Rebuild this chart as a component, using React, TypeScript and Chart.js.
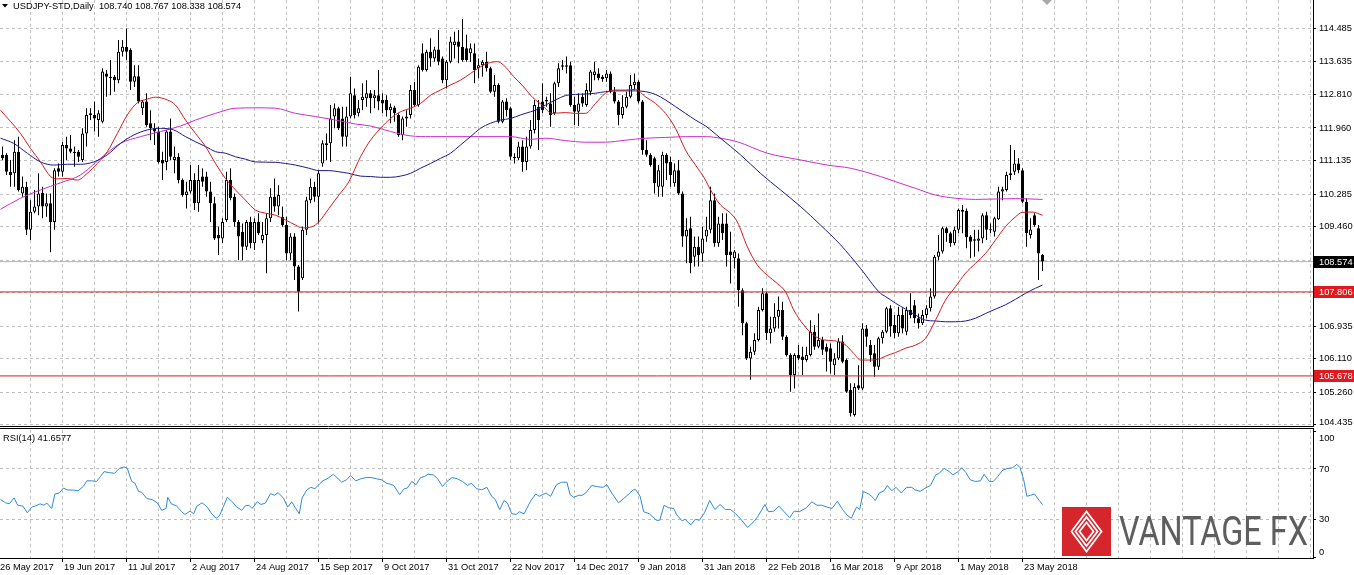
import React, { useEffect, useRef } from "react";
import { Chart, registerables } from "chart.js";
Chart.register(...registerables);

// ---- data (bar 0 = 29 May 2017, one bar per trading day) ----
const opens = [
111.28,111.28,110.85,110.81,111.36,110.30,110.47,109.38,109.84,109.97,
110.32,109.97,110.05,109.58,110.94,110.85,111.53,111.44,111.36,111.36,
111.15,111.82,112.29,112.29,112.16,112.12,113.34,113.26,113.26,113.17,
113.89,114.02,113.94,113.13,113.27,112.46,112.63,112.08,111.95,111.87,
111.15,111.10,111.87,111.15,111.23,110.64,110.26,110.35,110.64,110.05,
110.73,110.73,110.35,110.05,109.25,109.16,109.63,110.64,110.22,109.58,
109.33,108.95,109.58,109.04,109.58,109.12,109.25,109.67,110.22,109.97,
109.71,109.50,108.78,109.21,108.45,108.15,109.38,110.13,110.47,110.22,
111.06,111.53,111.57,112.25,112.46,112.20,111.74,112.25,112.79,112.33,
112.67,112.71,112.84,112.71,112.79,112.67,112.67,112.41,112.48,112.29,
111.78,112.20,112.29,112.92,112.54,113.85,113.43,113.89,113.72,113.95,
113.72,113.17,113.64,114.06,114.15,114.02,113.98,113.85,113.85,113.47,
113.55,113.64,113.47,112.88,113.05,112.12,112.63,112.46,111.23,111.19,
111.49,111.10,111.49,111.91,112.50,112.63,112.63,112.58,112.33,113.09,
113.51,113.51,113.55,112.54,112.37,112.75,112.54,112.88,113.30,113.34,
113.26,113.22,113.34,112.88,112.63,112.29,112.50,112.75,113.05,113.13,
112.63,111.40,111.28,111.19,110.47,110.47,111.28,111.10,110.56,110.89,
110.30,109.21,109.42,108.70,108.95,108.78,109.21,109.38,110.13,109.04,
109.54,109.54,108.83,108.66,108.66,107.85,107.01,106.12,106.29,106.59,
107.35,107.77,106.76,106.88,107.18,107.35,106.67,106.21,105.70,106.21,
106.17,106.08,106.21,106.80,106.42,106.59,106.42,106.38,105.95,106.12,
106.55,106.08,105.32,104.69,105.44,105.36,106.88,106.46,106.25,105.91,
106.63,106.80,107.39,106.97,106.76,107.22,106.80,107.35,107.47,107.14,
107.01,107.22,107.39,107.69,108.70,108.83,109.42,109.29,109.04,109.38,
109.84,109.86,109.21,109.14,109.10,109.16,109.75,109.39,109.33,109.65,
110.35,110.39,110.77,110.85,111.06,110.89,110.09,109.25,109.75,109.42,
108.740];
const highs = [
111.49,111.32,111.15,111.65,111.74,110.73,110.60,110.13,110.39,110.81,
110.47,110.30,110.30,110.94,111.06,111.61,111.74,111.78,111.49,111.40,
111.95,112.46,112.46,112.63,112.41,113.47,113.43,113.68,113.30,114.19,
114.19,114.48,113.98,113.55,113.55,112.67,112.84,112.41,112.08,111.99,
111.36,111.91,112.20,111.49,111.32,110.68,110.60,111.02,110.81,111.02,
110.94,110.85,110.60,110.22,109.46,109.67,110.85,110.94,110.30,109.63,
109.54,109.63,109.71,109.67,109.80,109.58,109.80,110.43,110.68,110.51,
109.97,109.71,109.29,109.29,108.49,109.46,110.22,110.68,110.60,110.89,
111.65,111.82,112.54,112.58,112.50,112.50,112.50,113.26,112.96,112.67,
113.09,113.17,112.92,112.92,113.43,112.84,112.79,112.58,112.52,112.33,
112.25,112.41,113.05,113.13,113.55,114.10,113.94,114.23,114.02,114.44,
113.77,113.68,114.27,114.40,114.44,114.72,114.32,114.10,114.10,113.72,
113.68,113.89,113.51,113.30,113.09,112.67,112.71,112.50,111.32,111.61,
111.65,111.74,112.16,112.67,112.67,113.09,112.75,112.84,113.13,113.60,
113.68,113.77,113.64,112.75,112.84,112.84,113.09,113.43,113.64,113.47,
113.30,113.43,113.39,113.00,112.67,112.79,112.88,113.30,113.34,113.17,
112.67,111.65,111.32,111.23,111.02,111.36,111.32,111.23,111.06,111.15,
110.35,109.67,109.71,109.21,109.21,109.46,109.71,110.47,110.30,109.71,
109.80,109.80,109.33,108.87,108.78,107.90,107.05,106.42,106.76,107.43,
107.90,107.81,107.18,107.52,107.69,107.56,106.71,106.25,106.25,106.46,
106.42,106.42,107.09,106.97,107.26,106.67,106.50,106.50,106.25,106.63,
106.71,106.12,105.49,105.49,105.95,107.01,106.97,106.59,106.46,106.67,
106.84,107.43,107.47,107.22,107.43,107.39,107.43,107.77,107.60,107.26,
107.35,107.47,107.90,108.74,109.25,109.46,109.46,109.33,109.46,109.92,
110.01,109.92,109.25,109.38,109.38,109.80,109.84,109.54,109.71,110.47,
110.47,110.85,111.53,111.40,111.19,110.94,110.18,109.67,109.80,109.50,
108.767];
const lows = [
111.15,110.77,110.47,110.47,110.35,110.22,109.25,109.12,109.80,109.75,
109.67,109.71,108.81,109.38,110.73,110.73,111.15,111.32,110.98,111.10,
111.10,111.49,112.16,111.87,111.74,112.08,112.75,112.79,112.88,113.09,
113.77,113.68,112.92,113.00,112.58,112.29,111.99,111.65,111.53,111.06,
110.64,110.89,111.15,110.81,110.56,110.22,109.92,110.30,109.88,109.84,
110.47,110.22,109.58,109.12,108.74,109.04,109.58,110.13,109.46,108.61,
108.61,108.87,108.91,108.87,109.25,109.04,108.28,109.58,109.84,109.75,
109.46,108.61,108.61,108.11,107.31,108.11,109.25,110.05,110.09,109.54,
110.98,111.15,111.10,111.95,111.91,111.49,111.49,112.20,112.20,112.25,
112.41,112.50,112.33,112.46,112.41,112.33,112.25,112.08,112.12,111.74,
111.65,111.99,112.20,112.50,112.50,113.39,113.39,113.51,113.64,113.55,
113.09,112.96,113.60,113.72,113.60,113.64,113.64,113.64,113.09,113.22,
113.26,113.39,112.84,112.75,112.08,112.08,112.25,111.15,111.06,111.15,
110.85,110.89,111.44,111.82,111.40,112.33,112.50,111.99,112.29,113.00,
113.43,113.34,112.50,112.03,112.01,112.50,112.50,112.79,113.17,113.17,
113.13,113.13,112.84,112.58,112.03,112.20,112.46,112.71,112.92,112.58,
111.28,111.23,110.98,110.30,110.22,110.22,110.64,110.47,110.47,110.26,
108.95,108.53,108.28,108.45,108.45,108.57,109.08,109.29,108.95,108.95,
109.12,108.45,108.02,108.40,107.43,106.71,106.08,105.58,106.21,106.55,
107.31,106.59,106.50,106.80,106.88,106.59,106.17,105.28,105.36,106.08,
105.70,106.04,106.17,106.34,106.38,106.21,105.79,105.74,105.70,106.08,
106.00,105.25,104.65,104.65,105.32,105.32,106.42,106.04,105.66,105.83,
106.50,106.76,106.67,106.63,106.67,106.76,106.71,107.14,107.01,106.88,
106.97,107.14,107.31,107.64,108.61,108.78,109.08,108.95,108.99,109.29,
109.29,108.91,108.66,108.70,108.83,109.04,109.12,109.29,109.21,109.63,
110.13,110.35,110.64,110.77,110.81,110.05,108.95,109.16,109.46,108.11,
108.338];
const closes = [
111.19,110.85,110.77,111.36,110.39,110.47,109.38,109.84,109.97,110.30,
109.97,110.05,109.58,110.89,110.85,111.53,111.44,111.36,111.32,111.23,
111.82,112.29,112.33,112.20,112.33,113.39,113.26,113.22,113.17,113.89,
114.02,113.89,113.13,113.27,112.63,112.63,112.03,111.95,111.87,111.10,
111.06,111.87,111.23,111.23,110.64,110.26,110.35,110.64,110.05,110.64,
110.60,110.35,110.05,109.16,109.16,109.58,110.64,110.18,109.58,109.21,
108.95,109.58,109.04,109.58,109.29,109.25,109.67,110.22,109.97,110.26,
109.50,108.78,109.21,108.45,107.81,109.38,110.13,110.47,110.22,110.81,
111.57,111.57,112.20,112.46,111.95,111.74,112.25,112.84,112.29,112.46,
112.75,112.84,112.71,112.79,112.63,112.58,112.41,112.50,112.33,111.78,
112.20,112.25,112.92,112.54,113.51,113.43,113.89,113.72,113.95,113.64,
113.17,113.64,114.15,114.15,114.02,113.68,113.68,113.98,113.43,113.55,
113.64,113.47,112.88,113.05,112.12,112.63,112.41,111.23,111.19,111.49,
111.10,111.49,111.91,112.54,112.16,112.41,112.67,112.29,113.09,113.47,
113.55,113.55,112.54,112.37,112.58,112.58,112.92,113.39,113.39,113.22,
113.20,113.34,112.88,112.63,112.29,112.50,112.75,113.05,113.13,112.63,
111.40,111.28,111.02,110.56,110.89,111.28,111.06,110.77,110.89,110.30,
109.21,109.38,108.53,108.95,108.74,109.16,109.38,110.13,109.04,109.54,
109.29,108.74,108.74,108.83,107.85,107.01,106.12,106.29,106.59,107.35,
107.77,106.76,106.88,107.18,107.35,106.67,106.21,105.70,106.21,106.12,
106.08,106.21,106.80,106.42,106.59,106.34,106.29,106.04,106.12,106.55,
106.04,105.28,104.73,105.40,105.36,106.88,106.67,106.21,105.91,106.63,
106.80,107.39,106.93,106.76,107.22,106.88,107.35,107.22,107.14,107.01,
107.22,107.39,107.69,108.70,108.83,109.42,109.29,109.04,109.38,109.88,
109.88,109.19,109.08,109.10,109.16,109.75,109.38,109.37,109.67,110.35,
110.41,110.77,110.81,111.06,110.89,110.09,109.29,109.39,109.50,108.78,
108.574];

// moving averages: [bar, price]
const maRed = [[-0.5,112.41],[4.5,111.82],[7,111.44],[9.5,111.10],[12,110.73],[13.7,110.67],[16.2,110.68],[18.7,110.64],[21.2,110.81],[23.7,111.06],[26.2,111.36],[28.7,111.82],[31.2,112.29],[33.7,112.60],[36.2,112.69],[38.25,112.74],[41.2,112.67],[43.25,112.54],[45.75,112.16],[48.25,111.82],[50.75,111.49],[53.25,111.06],[55.75,110.68],[58.25,110.39],[60.75,110.13],[63.25,109.88],[65.75,109.80],[68.25,109.75],[70.75,109.63],[73.25,109.50],[74.9,109.43],[77.4,109.46],[79.1,109.58],[81.6,109.92],[84.1,110.26],[86.6,110.60],[89.5,111.23],[92,111.65],[94.5,111.95],[97,112.20],[99.5,112.37],[102,112.46],[104.5,112.58],[107,112.79],[109.5,112.92],[112,113.05],[114.5,113.17],[117,113.34],[119.5,113.51],[122,113.62],[123.7,113.64],[125.3,113.55],[127.8,113.26],[130.3,113.00],[132,112.79],[133.25,112.67],[134.9,112.54],[137.4,112.33],[140.75,112.35],[143.25,112.33],[145.75,112.33],[148.25,112.58],[150.75,112.84],[153.25,112.92],[155.75,112.92],[158.25,112.94],[160.75,112.75],[163.25,112.58],[165.75,112.33],[168.25,111.95],[170.75,111.40],[173.25,111.02],[175.75,110.64],[177,110.39],[179.5,110.01],[182,109.80],[183.7,109.58],[186.2,108.95],[188.7,108.49],[191.2,108.23],[193.7,108.02],[195.75,107.81],[197.8,107.35],[200.3,106.97],[202.8,106.71],[205.3,106.59],[207.8,106.57],[210.3,106.50],[212.8,106.25],[214.5,106.08],[217,106.08],[219.5,106.12],[220.75,106.18],[223.25,106.27],[225.75,106.38],[228.25,106.46],[230.75,106.63],[233.25,107.09],[235.75,107.60],[238.25,107.94],[240.75,108.28],[243.25,108.53],[245.75,108.78],[248.25,109.12],[250.75,109.46],[253.25,109.71],[254.9,109.82],[257.4,109.83],[260,109.75]];
const maBlue = [[-0.5,111.70],[2.8,111.57],[6.2,111.32],[9.5,111.10],[12.8,111.02],[16.2,111.04],[19.5,111.04],[22.8,111.10],[26.2,111.28],[29.5,111.57],[32.8,111.78],[36.2,111.91],[39.5,111.95],[42.8,111.91],[45.75,111.74],[48.25,111.61],[50.75,111.49],[53.25,111.36],[55.75,111.32],[58.25,111.23],[60.75,111.17],[63.25,111.10],[68.25,111.09],[70.75,111.06],[73.25,111.02],[76.6,110.94],[79.1,110.88],[81.6,110.88],[84.1,110.85],[86.6,110.81],[89.5,110.74],[92,110.73],[94.5,110.71],[97,110.71],[99.5,110.74],[102,110.81],[104.5,110.94],[107,111.06],[109.5,111.19],[112,111.32],[114.5,111.53],[117,111.74],[119.5,111.95],[122,112.08],[124.5,112.16],[127,112.20],[129.5,112.29],[132,112.37],[133.25,112.41],[135.75,112.54],[138.25,112.67],[140.75,112.78],[143.25,112.81],[145.75,112.82],[148.25,112.84],[150.75,112.88],[153.25,112.90],[158.25,112.90],[160.75,112.88],[163.25,112.81],[165.75,112.67],[168.25,112.50],[170.75,112.33],[173.25,112.16],[175.75,112.01],[179.5,111.70],[184.5,111.28],[189.5,110.81],[194.5,110.39],[199.5,109.97],[204.5,109.50],[209.5,109.00],[214.5,108.40],[219.5,107.77],[220.75,107.69],[223.25,107.52],[225.75,107.37],[228.25,107.22],[230.75,107.09],[233.25,107.07],[235.75,107.05],[238.25,107.05],[240.75,107.07],[243.25,107.14],[245.75,107.26],[248.25,107.37],[250.75,107.48],[253.25,107.62],[255.75,107.77],[258.25,107.90],[260,107.98]];
const maMagenta = [[-0.5,109.90],[4.5,110.18],[9.5,110.39],[14.5,110.57],[19.5,110.77],[24.5,111.19],[29.5,111.57],[34.5,111.74],[39.5,111.87],[44.5,112.01],[48.25,112.16],[53.25,112.33],[58.25,112.46],[63.25,112.47],[68.25,112.46],[73.25,112.33],[78.25,112.25],[83.25,112.16],[88.25,112.06],[92,112.01],[97,111.87],[102,111.76],[107,111.74],[127,111.74],[132,111.67],[135.75,111.70],[140.75,111.64],[145.75,111.60],[150.75,111.60],[155.75,111.65],[160.75,111.70],[165.75,111.72],[170.75,111.74],[176,111.74],[179.5,111.70],[183.7,111.61],[191.2,111.32],[199.5,111.15],[206.2,111.02],[212,110.94],[219.5,110.73],[223.25,110.60],[228.25,110.43],[233.25,110.26],[238.25,110.18],[243.25,110.15],[253.25,110.17],[260,110.15]];

// RSI(14): [bar, value]
const rsi14 = [[-0.5,45.7],[0.8,43.1],[1.7,42.3],[2.9,47.0],[3.8,41.2],[5.1,40.5],[6.2,35.2],[7.3,39.7],[8.6,41.0],[9.4,42.3],[10.3,41.2],[11.1,42.8],[12.3,38.6],[13.1,50.1],[14.2,50.9],[15.2,54.8],[16.3,53.3],[17.6,53.3],[18.9,52.7],[20.2,56.1],[21.1,60.6],[22.3,60.6],[23.5,60.1],[24.5,64.0],[25.4,67.9],[26.7,67.1],[28,66.6],[29.2,70.5],[30.4,71.6],[31.2,70.5],[32.3,60.1],[33.1,58.8],[34,52.2],[34.8,51.4],[36.1,46.5],[37.4,45.7],[38.7,43.1],[39.8,37.1],[40.9,38.6],[41.3,47.5],[42.2,42.3],[43.5,40.7],[44.8,36.0],[45.6,33.9],[46.9,36.5],[47.8,34.4],[48.6,40.5],[49.9,43.1],[51.2,39.7],[52.1,35.2],[53.4,30.8],[54.2,32.6],[55.1,39.2],[56.2,47.5],[57.3,44.4],[58.6,39.7],[59.8,37.1],[60.7,40.7],[61.6,41.2],[62.4,38.6],[63.7,43.9],[64.6,41.8],[65.7,42.8],[67,50.4],[68,49.1],[68.9,51.2],[70.2,47.0],[71.3,39.7],[72.3,43.9],[73.2,39.2],[74.2,34.4],[74.9,47.0],[76.1,53.5],[77.1,55.4],[78.1,54.3],[79.2,58.0],[80.1,60.6],[81.4,62.7],[82.7,65.8],[83.6,63.2],[84.8,59.5],[86,61.4],[87,64.8],[88.3,60.6],[89.6,62.2],[90.9,63.2],[92.2,63.2],[93.5,62.2],[94.8,61.4],[95.9,58.8],[96.9,58.0],[97.8,56.9],[99.3,49.6],[100.4,54.3],[101.2,54.8],[102.3,60.1],[103.4,57.5],[104.5,63.2],[105.5,64.0],[106.4,65.8],[107.7,65.3],[108.8,62.2],[110,56.1],[111.1,60.1],[112.4,63.2],[113.7,62.2],[115,60.1],[116.3,56.9],[117.2,58.8],[118.5,54.3],[119.8,53.5],[121.1,55.4],[122.3,48.3],[123.2,45.7],[124.3,37.6],[125.4,44.9],[126.2,43.1],[127.3,34.4],[128.4,33.9],[129.2,36.0],[130.4,34.4],[132,44.4],[133.3,50.1],[134.2,48.3],[135.9,50.9],[137,48.3],[138.5,57.5],[139.8,59.5],[141.1,59.5],[141.9,49.6],[142.8,47.5],[144.1,49.1],[144.9,49.1],[145.8,50.9],[147.3,56.9],[148.8,55.9],[150.1,55.4],[151.1,57.5],[152.3,50.9],[154,43.1],[155.3,46.5],[156.6,50.1],[157.7,53.5],[158.3,53.5],[159.4,48.3],[160.3,36.0],[161.7,34.4],[163.5,29.2],[164.3,29.2],[165.4,41.2],[166.5,39.2],[167.8,38.6],[168.6,33.4],[169.9,28.7],[170.6,30.0],[172.1,25.6],[173.2,30.0],[174.2,29.2],[175.5,35.2],[176.8,44.9],[178.1,37.8],[179.4,41.8],[180.7,37.8],[182,37.8],[183.3,34.4],[184.6,30.0],[186.3,23.5],[188,28.7],[188.9,32.6],[190.6,41.8],[191.5,36.0],[192.8,36.5],[194.1,40.5],[195.4,36.0],[196.8,31.3],[197.9,36.5],[199.2,36.0],[201,39.2],[202.3,43.9],[203.6,41.2],[204.8,41.2],[206.1,39.7],[207.4,38.6],[208.7,44.4],[210,37.8],[211.1,33.4],[212.2,30.8],[213.5,39.7],[214.3,37.8],[215.2,52.2],[216.5,50.1],[217.3,48.3],[218.2,44.9],[219.2,50.9],[220.4,52.7],[221.2,56.9],[222.3,52.7],[223.4,55.4],[224.7,50.9],[226,55.4],[227.3,55.4],[228.1,53.5],[229.4,52.2],[230.7,54.8],[232,56.9],[233.3,65.3],[234.2,66.6],[235.4,70.5],[236.7,67.9],[237.6,65.3],[238.9,67.9],[239.8,71.0],[240.8,67.4],[241.9,61.4],[243.2,60.1],[244.5,60.6],[245.4,65.8],[246.7,60.1],[247.7,60.1],[248.8,64.0],[250.1,69.2],[251.4,70.5],[252.5,71.0],[253.6,73.7],[254.4,71.0],[255.3,61.4],[256.1,48.3],[257,49.1],[258,50.1],[259.2,44.9],[260,41.66]];

const priceTicks = [114.485,113.635,112.810,111.960,111.135,110.285,109.460,108.610,107.785,106.935,106.110,105.260,104.435];
const hiddenPriceLabels = [108.610, 107.785];
const bottomPriceLabel = 104.435;
const rsiLevels = [0, 30, 70, 100];
const rsiGridLevels = [30, 70];
const dateLabels = ["26 May 2017","19 Jun 2017","11 Jul 2017","2 Aug 2017","24 Aug 2017","15 Sep 2017","9 Oct 2017","31 Oct 2017","22 Nov 2017","14 Dec 2017","9 Jan 2018","31 Jan 2018","22 Feb 2018","16 Mar 2018","9 Apr 2018","1 May 2018","23 May 2018"];
const dateLabelBars = [-1,15,31,47,63,79,95,111,127,143,159,175,191,207,223,239,255];
const levelLines = [107.806, 105.678];
const lastPrice = 108.574;
const titleText = "USDJPY-STD,Daily  108.740 108.767 108.338 108.574";
const rsiTitle = "RSI(14) 41.6577";

// ---- layout constants ----
const W = 1354;
const MAIN_H = 427;
const RSI_TOP = 428;
const RSI_H = 147;
const AXIS_W = 41;
const X_MIN = -0.625;
const X_MAX = 327.625;
const Y_MIN = 104.384;
const Y_MAX = 115.202;
const R_MIN = -0.78;
const R_MAX = 101.01;
const FONT = "Liberation Sans";
const FS = 9.3;
const GRID = "#c0c0c0";
const gridBars: number[] = [];
for (let v = 7; v <= 327; v += 8) gridBars.push(v);

const fmt = (v: number) => v.toFixed(3);
const noPad = (s: any) => {
  s.paddingTop = 0;
  s.paddingBottom = 0;
  s.paddingLeft = 0;
  s.paddingRight = 0;
};

export default function App() {
  const mainRef = useRef<HTMLCanvasElement>(null);
  const rsiRef = useRef<HTMLCanvasElement>(null);

  useEffect(() => {
    const xScaleBase = (h: number) => ({
      type: "linear" as const,
      min: X_MIN,
      max: X_MAX,
      offset: false,
      afterBuildTicks: (s: any) => { s.ticks = gridBars.map((v) => ({ value: v })); },
      afterFit: (s: any) => { s.height = h; noPad(s); },
      ticks: { display: false, autoSkip: false },
      grid: { color: GRID, drawTicks: false, lineWidth: 1, offset: false },
      border: { display: false, dash: [3, 3] },
    });

    const mainPlugin = {
      id: "mainDeco",
      afterDraw(chart: any) {
        const ctx = chart.ctx;
        const ys = chart.scales.y;
        const area = chart.chartArea;
        ctx.save();
        ctx.strokeStyle = "#000";
        ctx.lineWidth = 1;
        ctx.beginPath();
        ctx.moveTo(0, MAIN_H - 0.5);
        ctx.lineTo(area.right + 1, MAIN_H - 0.5);
        ctx.stroke();
        ctx.font = `${FS}px "${FONT}"`;
        ctx.textBaseline = "middle";
        // bottom axis label kept inside the pane
        ctx.fillStyle = "#000";
        ctx.fillText(fmt(bottomPriceLabel), area.right + 6, MAIN_H - 4.5);
        const boxes: [number, string][] = [[lastPrice, "#000000"], ...levelLines.map((v) => [v, "#e0191f"] as [number, string])];
        for (const [v, col] of boxes) {
          const y = ys.getPixelForValue(v);
          ctx.fillStyle = col;
          ctx.fillRect(area.right + 1, Math.round(y) - 6, W - area.right - 1, 12);
          ctx.fillStyle = "#fff";
          ctx.fillText(fmt(v), area.right + 6, Math.round(y) + 0.5);
        }
        ctx.fillStyle = "#000";
        ctx.beginPath();
        ctx.moveTo(2, 4);
        ctx.lineTo(8, 4);
        ctx.lineTo(5, 7.5);
        ctx.closePath();
        ctx.fill();
        ctx.fillText(titleText, 13, 6.5);
        ctx.fillStyle = "#a8a8a8";
        ctx.beginPath();
        ctx.moveTo(1042, 0);
        ctx.lineTo(1052, 0);
        ctx.lineTo(1047, 5);
        ctx.closePath();
        ctx.fill();
        ctx.restore();
      },
    };

    const main = new Chart(mainRef.current!, {
      type: "bar",
      data: {
        datasets: [
          {
            type: "line",
            label: "bid",
            data: [{ x: X_MIN, y: lastPrice }, { x: X_MAX, y: lastPrice }],
            borderColor: "#b4b4b4",
            borderWidth: 1,
            pointRadius: 0,
            order: 9,
          },
          {
            type: "bar",
            label: "wicks",
            data: highs.map((h, i) => ({ x: i, y: [lows[i], h] })),
            backgroundColor: "#000",
            borderWidth: 0,
            barThickness: 1,
            grouped: false,
            inflateAmount: 0,
            order: 8,
          },
          {
            type: "bar",
            label: "bodies",
            data: opens.map((o, i) => ({ x: i, y: [o, closes[i]] })),
            backgroundColor: (c: any) => (closes[c.dataIndex] >= opens[c.dataIndex] ? "#ffffff" : "#000000"),
            borderColor: "#000",
            borderWidth: 1,
            borderSkipped: false,
            barThickness: 3,
            minBarLength: 1,
            grouped: false,
            inflateAmount: 0,
            order: 7,
          },
          {
            type: "line",
            label: "ma magenta",
            data: maMagenta.map(([x, y]) => ({ x, y })),
            borderColor: "#cc2ccc",
            borderWidth: 1,
            pointRadius: 0,
            cubicInterpolationMode: "monotone",
            order: 4,
          },
          {
            type: "line",
            label: "ma blue",
            data: maBlue.map(([x, y]) => ({ x, y })),
            borderColor: "#1a1a8c",
            borderWidth: 1,
            pointRadius: 0,
            cubicInterpolationMode: "monotone",
            order: 3,
          },
          {
            type: "line",
            label: "ma red",
            data: maRed.map(([x, y]) => ({ x, y })),
            borderColor: "#d01c1c",
            borderWidth: 1,
            pointRadius: 0,
            cubicInterpolationMode: "monotone",
            order: 2,
          },
          ...levelLines.map((v) => ({
            type: "line" as const,
            label: "level " + v,
            data: [{ x: X_MIN, y: v }, { x: X_MAX, y: v }],
            borderColor: "#d42020",
            borderWidth: 1,
            pointRadius: 0,
            order: 1,
          })),
        ] as any,
      },
      options: {
        animation: false,
        responsive: false,
        maintainAspectRatio: false,
        events: [],
        layout: { padding: 0 },
        plugins: { legend: { display: false }, tooltip: { enabled: false } },
        scales: {
          x: xScaleBase(0) as any,
          y: {
            type: "linear",
            position: "right",
            min: Y_MIN,
            max: Y_MAX,
            beginAtZero: false,
            afterBuildTicks: (s: any) => { s.ticks = priceTicks.map((v) => ({ value: v })); },
            afterFit: (s: any) => { s.width = AXIS_W; noPad(s); },
            ticks: {
              autoSkip: false,
              color: "#000",
              padding: 3,
              font: { family: FONT, size: FS },
              callback: (v: any) =>
                hiddenPriceLabels.includes(Number(v)) || Number(v) === bottomPriceLabel ? "" : Number(v).toFixed(3),
            },
            grid: { color: GRID, tickColor: "#000", tickLength: 3, drawTicks: true },
            border: { display: true, color: "#000", dash: [3, 3] },
          },
        },
      },
      plugins: [mainPlugin],
    });

    const rsiPlugin = {
      id: "rsiDeco",
      afterDraw(chart: any) {
        const ctx = chart.ctx;
        const ys = chart.scales.y;
        const xs = chart.scales.x;
        const area = chart.chartArea;
        ctx.save();
        ctx.strokeStyle = "#000";
        ctx.lineWidth = 1;
        ctx.beginPath();
        ctx.moveTo(0, 0.5);
        ctx.lineTo(area.right + 1, 0.5);
        ctx.moveTo(area.right + 0.5, 0);
        ctx.lineTo(area.right + 0.5, area.top);
        ctx.stroke();
        ctx.font = `${FS}px "${FONT}"`;
        ctx.fillStyle = "#000";
        ctx.textBaseline = "middle";
        ctx.textAlign = "left";
        ctx.fillText(rsiTitle, 3, 10.5);
        for (const v of rsiLevels) {
          const y = ys.getPixelForValue(v) + (v === 100 ? 7 : v === 0 ? -5 : 0);
          ctx.fillText(String(v), area.right + 6, y);
        }
        ctx.beginPath();
        dateLabelBars.forEach((b) => {
          const x = Math.round(xs.getPixelForValue(b) - 0.5) + 0.5;
          ctx.moveTo(x, area.bottom);
          ctx.lineTo(x, area.bottom + 4);
        });
        ctx.stroke();
        dateLabels.forEach((t, k) => {
          const x = xs.getPixelForValue(dateLabelBars[k]);
          ctx.fillText(t, Math.round(x) + 1, area.bottom + 9.5);
        });
        const top = 507 - RSI_TOP;
        ctx.fillStyle = "#d6262d";
        ctx.fillRect(1062, top, 49, 49);
        const cx = 1086.5, cy = top + 24.5;
        ctx.strokeStyle = "#ffffff";
        ctx.lineWidth = 1.8;
        for (const [w, h] of [[15, 20], [11, 14.5], [7, 9]]) {
          ctx.beginPath();
          ctx.moveTo(cx, cy - h);
          ctx.lineTo(cx + w, cy);
          ctx.lineTo(cx, cy + h);
          ctx.lineTo(cx - w, cy);
          ctx.closePath();
          ctx.stroke();
        }
        ctx.fillStyle = "#5e5e5e";
        ctx.font = `400 41px Roboto`;
        ctx.textBaseline = "alphabetic";
        ctx.fillText("VANTAGE FX", 1119, 545 - RSI_TOP, 189);
        ctx.restore();
      },
    };

    const rsi = new Chart(rsiRef.current!, {
      type: "line",
      data: {
        datasets: [
          {
            label: "RSI",
            data: rsi14.map(([x, y]) => ({ x, y })),
            borderColor: "#2f8ad6",
            borderWidth: 1,
            pointRadius: 0,
            tension: 0,
          },
        ],
      },
      options: {
        animation: false,
        responsive: false,
        maintainAspectRatio: false,
        events: [],
        layout: { padding: { top: 2, left: 0, right: 0, bottom: 0 } },
        plugins: { legend: { display: false }, tooltip: { enabled: false } },
        scales: {
          x: { ...(xScaleBase(RSI_H - 130) as any), border: { display: true, color: "#000", dash: [3, 3] } },
          y: {
            type: "linear",
            position: "right",
            min: R_MIN,
            max: R_MAX,
            afterBuildTicks: (s: any) => { s.ticks = rsiLevels.map((v) => ({ value: v })); },
            afterFit: (s: any) => { s.width = AXIS_W; noPad(s); },
            ticks: { autoSkip: false, callback: () => "", font: { family: FONT, size: FS } },
            grid: {
              color: (c: any) => (c.tick && rsiGridLevels.includes(c.tick.value) ? GRID : "rgba(0,0,0,0)"),
              tickColor: "#000",
              tickLength: 3,
              drawTicks: true,
            },
            border: { display: true, color: "#000", dash: [3, 3] },
          },
        },
      },
      plugins: [rsiPlugin],
    });

    return () => {
      main.destroy();
      rsi.destroy();
    };
  }, []);

  return (
    <div style={{ position: "absolute", left: 0, top: 0, width: W, height: 575, background: "#fff", overflow: "hidden" }}>
      <canvas ref={mainRef} width={W} height={MAIN_H} style={{ position: "absolute", left: 0, top: 0, width: W, height: MAIN_H }} />
      <canvas ref={rsiRef} width={W} height={RSI_H} style={{ position: "absolute", left: 0, top: RSI_TOP, width: W, height: RSI_H }} />
    </div>
  );
}
